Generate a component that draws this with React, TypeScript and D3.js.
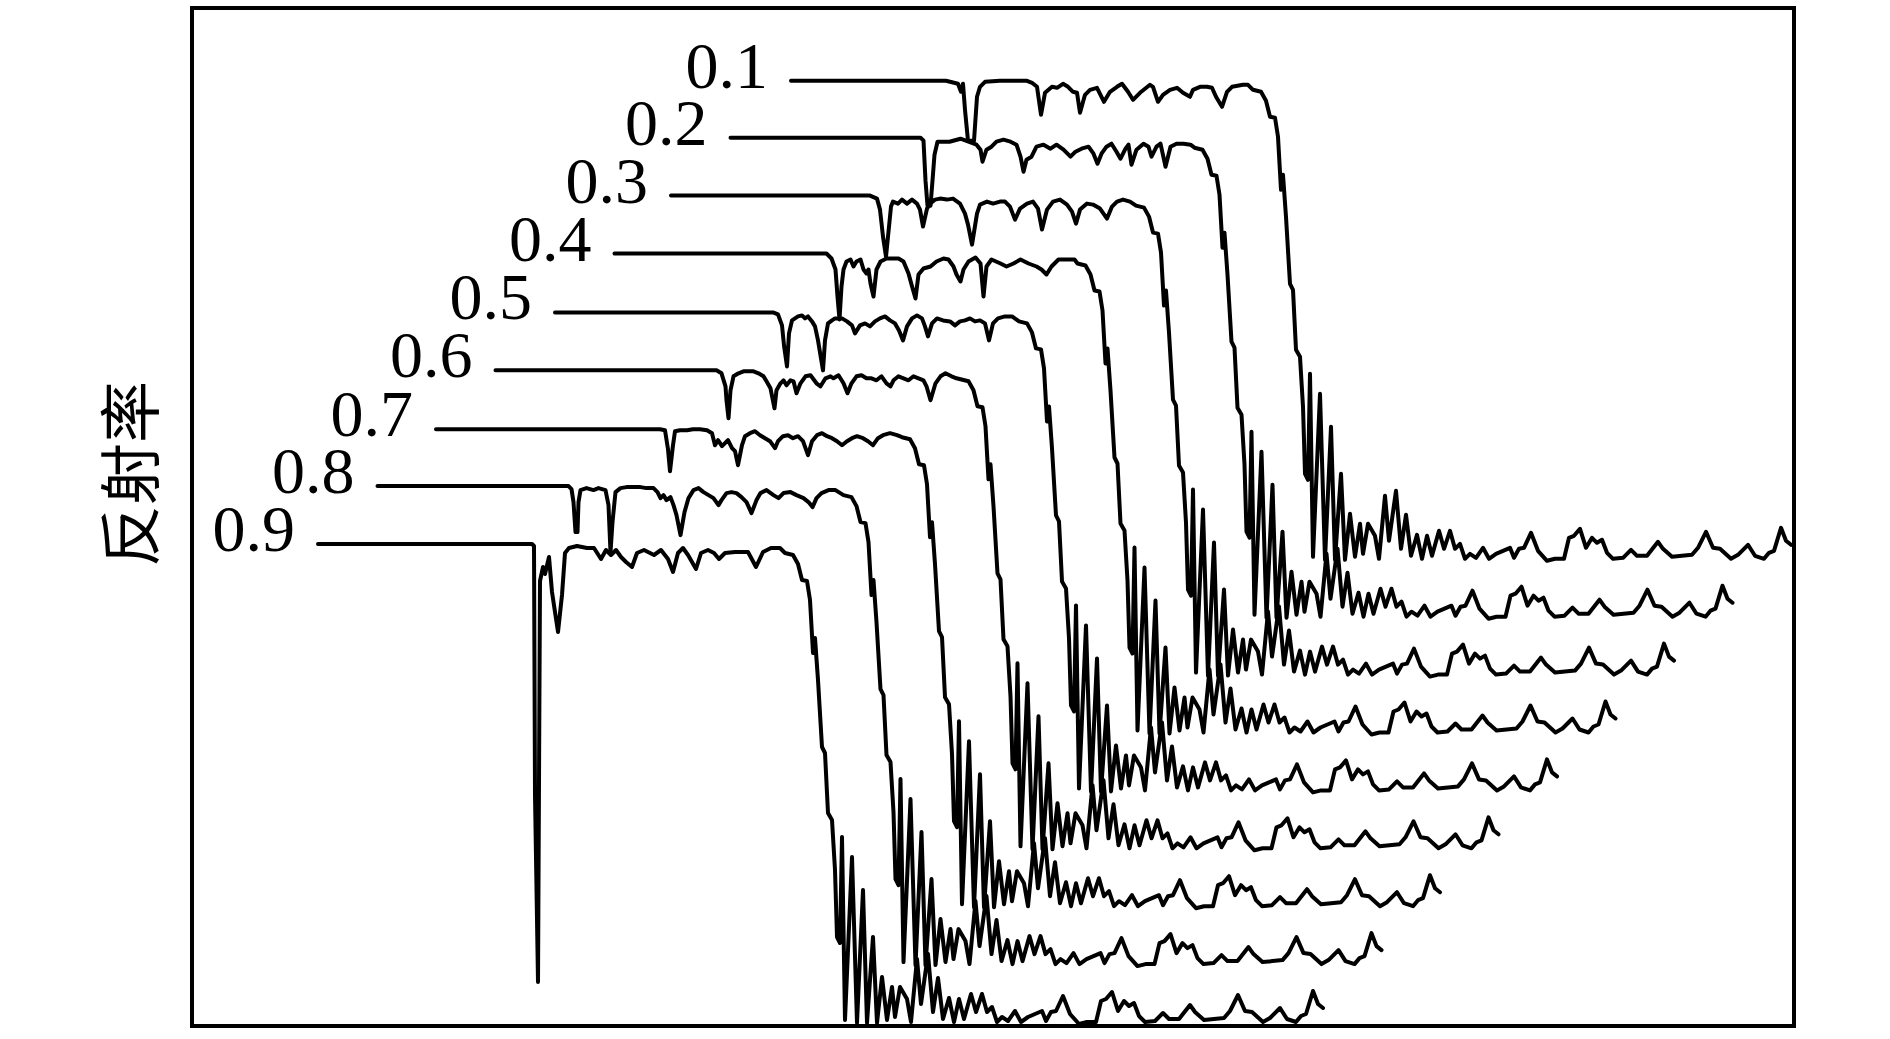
import React from 'react';
import * as d3 from 'd3';

const WIDTH = 1890;
const HEIGHT = 1039;

// plot frame (px)
const FRAME = { left: 192, right: 1794, top: 8, bottom: 1026 };

// spectrum labels, top to bottom
const labels = ['0.1', '0.2', '0.3', '0.4', '0.5', '0.6', '0.7', '0.8', '0.9'];

// waterfall shift between neighbouring spectra (channel, reflectance a.u.)
const OFFSET_X = 58.5;
const OFFSET_Y = 57.9;

// [channel, reflectance] - lead-in and pass band of each spectrum, in the frame of the lowest one
const band01: [number, number][] = [
  [133, 482], [288, 482], [300, 479], [303, 471], [305, 479], [307, 453], [310, 422], [316, 422],
  [319, 466], [322, 476], [327, 481], [342, 482], [369, 482], [374, 480], [379, 476], [383, 448],
  [387, 470], [394, 476], [399, 475], [405, 479], [410, 476], [415, 471], [419, 470], [422, 450],
  [427, 468], [432, 473], [439, 475], [446, 461], [452, 471], [459, 476], [464, 479], [470, 471],
  [475, 463], [482, 470], [492, 478], [495, 476], [500, 461], [505, 468], [512, 473], [519, 475],
  [525, 470], [532, 466], [535, 473], [542, 476], [549, 476], [554, 475], [558, 466], [564, 456],
  [569, 471], [574, 476], [585, 478], [590, 478],
];

const band02: [number, number][] = [
  [131, 483], [321, 483], [324, 480], [326, 440], [328, 415], [331, 415], [333, 440], [335, 466],
  [338, 479], [350, 479], [361, 482], [377, 476], [381, 471], [383, 459], [387, 471], [392, 474],
  [397, 479], [404, 481], [411, 479], [417, 476], [421, 464], [424, 449], [427, 461], [432, 464],
  [437, 474], [444, 476], [451, 472], [457, 476], [464, 471], [471, 464], [476, 469], [482, 472],
  [489, 474], [494, 467], [498, 457], [502, 467], [507, 474], [512, 477], [517, 469], [521, 462],
  [526, 472], [529, 476], [532, 456], [537, 471], [544, 477], [549, 474], [552, 464], [557, 474],
  [561, 477], [566, 454], [571, 474], [577, 477], [584, 477], [591, 476],
];

const band03: [number, number][] = [
  [130, 483], [329, 483], [336, 480], [339, 469], [342, 442], [345, 422], [347, 442], [350, 472],
  [352, 477], [357, 475], [361, 479], [366, 475], [371, 479], [376, 475], [379, 469], [382, 452],
  [386, 470], [389, 475], [394, 479], [399, 480], [406, 479], [412, 480], [419, 475], [424, 465],
  [427, 454], [431, 434], [436, 465], [439, 474], [446, 477], [452, 475], [459, 477], [464, 477],
  [469, 472], [474, 459], [479, 470], [486, 475], [492, 477], [497, 470], [501, 449], [506, 469],
  [512, 477], [519, 479], [526, 474], [531, 467], [535, 455], [539, 469], [546, 475], [552, 474],
  [559, 470], [566, 460], [571, 472], [576, 477], [582, 479], [589, 477],
];

const band04: [number, number][] = [
  [132, 483], [344, 483], [349, 478], [353, 467], [355, 440], [357, 417], [359, 450], [361, 467],
  [364, 475], [368, 477], [371, 470], [374, 475], [378, 477], [381, 467], [384, 463], [386, 467],
  [388, 453], [391, 440], [394, 467], [398, 475], [404, 478], [416, 478], [421, 475], [426, 463],
  [429, 452], [433, 438], [436, 462], [441, 468], [448, 470], [454, 475], [461, 478], [466, 477],
  [471, 470], [474, 462], [478, 455], [481, 467], [486, 475], [493, 479], [498, 473], [501, 440],
  [504, 470], [509, 477], [518, 473], [524, 470], [531, 473], [538, 477], [546, 473], [554, 470],
  [559, 467], [564, 462], [569, 470], [576, 477], [584, 477], [592, 477],
];

const band05: [number, number][] = [
  [131, 482], [349, 482], [354, 480], [358, 469], [360, 449], [363, 428], [365, 461], [368, 474],
  [371, 476], [374, 478], [378, 479], [381, 476], [384, 478], [388, 473], [391, 468], [394, 454],
  [399, 424], [401, 454], [404, 471], [408, 474], [411, 476], [418, 476], [423, 473], [428, 469],
  [431, 461], [436, 469], [441, 471], [446, 468], [451, 473], [456, 476], [461, 478], [466, 474],
  [471, 471], [475, 464], [479, 454], [483, 468], [488, 476], [493, 479], [498, 476], [501, 468],
  [504, 458], [508, 471], [513, 476], [519, 474], [526, 473], [531, 469], [536, 473], [541, 474],
  [546, 476], [551, 473], [556, 474], [561, 471], [565, 454], [569, 471], [574, 476], [581, 478],
  [588, 478],
];

const band06: [number, number][] = [
  [130, 482], [351, 482], [356, 479], [360, 466], [361, 452], [363, 434], [365, 462], [368, 476],
  [373, 479], [378, 481], [388, 481], [393, 479], [398, 476], [401, 471], [405, 464], [409, 444],
  [411, 462], [415, 469], [418, 472], [421, 467], [425, 472], [428, 471], [431, 459], [435, 469],
  [440, 476], [445, 477], [451, 469], [455, 466], [460, 474], [465, 476], [468, 474], [473, 477],
  [478, 469], [482, 459], [486, 469], [491, 476], [496, 477], [501, 474], [506, 474], [511, 472],
  [516, 476], [521, 469], [525, 466], [528, 472], [533, 476], [538, 474], [543, 472], [548, 476],
  [553, 474], [558, 472], [561, 466], [565, 452], [570, 469], [575, 476], [580, 479], [586, 476],
  [591, 474],
];

const band07: [number, number][] = [
  [129, 481], [353, 481], [358, 480], [361, 461], [363, 439], [366, 465], [368, 479], [373, 480],
  [380, 480], [386, 481], [393, 481], [400, 480], [405, 477], [408, 465], [411, 470], [415, 464],
  [418, 467], [421, 470], [425, 462], [428, 459], [431, 445], [435, 465], [438, 474], [443, 477],
  [448, 479], [453, 475], [458, 472], [463, 469], [468, 462], [471, 469], [476, 474], [481, 475],
  [486, 472], [491, 474], [496, 469], [501, 455], [505, 469], [510, 475], [515, 477], [520, 474],
  [525, 472], [530, 469], [535, 465], [540, 469], [545, 472], [550, 474], [556, 472], [561, 469],
  [566, 465], [571, 472], [576, 475], [583, 477], [590, 475],
];

const band08: [number, number][] = [
  [129, 482], [320, 482], [323, 479], [325, 466], [327, 436], [329, 436], [330, 466], [332, 478],
  [338, 480], [345, 478], [350, 480], [357, 478], [360, 463], [362, 416], [364, 446], [367, 476],
  [372, 480], [378, 481], [392, 481], [398, 480], [405, 480], [409, 476], [412, 470], [415, 473],
  [418, 468], [422, 471], [425, 463], [428, 453], [432, 433], [436, 456], [440, 470], [445, 478],
  [450, 480], [455, 476], [460, 473], [465, 470], [470, 463], [473, 468], [478, 475], [483, 476],
  [488, 475], [493, 471], [498, 466], [503, 455], [508, 468], [512, 475], [518, 478], [525, 473],
  [530, 470], [535, 475], [542, 476], [548, 473], [555, 470], [560, 466], [564, 461], [568, 470],
  [573, 475], [580, 478], [587, 478],
];

const band09: [number, number][] = [
  [128, 482], [342, 482], [344, 480], [345, 231], [348, 44], [350, 445], [353, 459], [355, 452],
  [359, 469], [362, 434], [368, 394], [372, 431], [375, 473], [379, 478], [387, 480], [397, 478],
  [404, 478], [411, 467], [416, 476], [421, 471], [426, 476], [431, 469], [436, 464], [442, 459],
  [447, 473], [454, 476], [464, 471], [471, 476], [478, 467], [483, 454], [488, 473], [493, 478],
  [498, 471], [506, 457], [511, 473], [518, 476], [524, 473], [529, 467], [535, 473], [545, 474],
  [558, 474], [566, 459], [573, 474], [581, 478], [590, 478],
];

// band edge, ringing and stop band common to all spectra
const edge: [number, number][] = [
  [595, 473], [603, 471], [608, 462], [612, 446], [617, 445], [620, 426], [623, 373], [625, 388],
  [628, 346], [632, 279], [635, 273], [638, 213], [642, 206], [645, 156], [647, 89], [650, 83],
  [652, 189], [655, 6], [662, 169], [667, 3], [673, 136], [677, 3], [683, 89], [687, 3],
  [692, 49], [697, 6], [702, 39], [705, 9], [710, 39], [717, 27], [721, 4], [727, 67],
  [731, 22], [738, 72], [743, 14], [748, 48], [753, 7], [759, 28], [764, 4], [769, 27],
  [774, 7], [781, 32], [786, 14], [792, 32], [797, 14], [802, 19], [807, 4], [812, 9],
  [818, 5], [825, 15], [831, 4], [838, 9], [845, 12], [852, 15], [856, 5], [861, 14],
  [866, 15], [873, 30], [880, 12], [889, 2], [897, 4], [906, 4], [911, 25], [916, 27],
  [922, 34], [928, 15], [934, 25], [939, 20], [944, 23], [949, 10], [955, 4], [965, 5],
  [973, 13], [979, 7], [989, 7], [1000, 21], [1005, 14], [1014, 6], [1024, 7], [1034, 8],
  [1040, 15], [1048, 31], [1055, 15], [1062, 14], [1073, 4], [1080, 8], [1090, 18], [1097, 7],
  [1106, 4], [1111, 10], [1116, 12], [1123, 35], [1128, 22], [1133, 18],
];

const bands = [band01, band02, band03, band04, band05, band06, band07, band08, band09];

const App: React.FC = () => {
  const xScale = d3.scaleLinear().domain([0, 1604]).range([190, 1794]);
  const yScale = d3.scaleLinear().domain([0, 1018]).range([1026, 8]);

  const line = d3
    .line<[number, number]>()
    .x(d => xScale(d[0]))
    .y(d => yScale(d[1]));

  const curves = labels.map((label, i) => {
    // lowest spectrum has no shift
    const k = labels.length - 1 - i;
    const pts = [...bands[i], ...edge].map(
      ([u, r]) => [u + k * OFFSET_X, r + k * OFFSET_Y] as [number, number]
    );
    return { label, pts };
  });

  return (
    <svg
      width={WIDTH}
      height={HEIGHT}
      style={{ position: 'absolute', left: 0, top: 0, background: '#fff' }}
    >
      <rect x={0} y={0} width={WIDTH} height={HEIGHT} fill="#fff" />

      {curves.map(c => (
        <path
          key={c.label}
          d={line(c.pts) || ''}
          fill="none"
          stroke="#000"
          strokeWidth={4}
          strokeLinejoin="round"
          strokeLinecap="round"
        />
      ))}

      {curves.map(c => (
        <text
          key={'t' + c.label}
          x={xScale(c.pts[0][0]) - 23}
          y={yScale(c.pts[0][1]) + 7}
          textAnchor="end"
          fontFamily="'Liberation Serif', 'Times New Roman', serif"
          fontSize={66}
          fill="#000"
        >
          {c.label}
        </text>
      ))}

      <rect
        x={FRAME.left}
        y={FRAME.top}
        width={FRAME.right - FRAME.left}
        height={FRAME.bottom - FRAME.top}
        fill="none"
        stroke="#000"
        strokeWidth={4}
      />

      <text
        transform={`translate(127, 474) rotate(-90)`}
        textAnchor="middle"
        dominantBaseline="central"
        fontFamily="'Noto Sans CJK SC', sans-serif"
        fontSize={62}
        fill="#000"
      >
        反射率
      </text>
    </svg>
  );
};

export default App;
